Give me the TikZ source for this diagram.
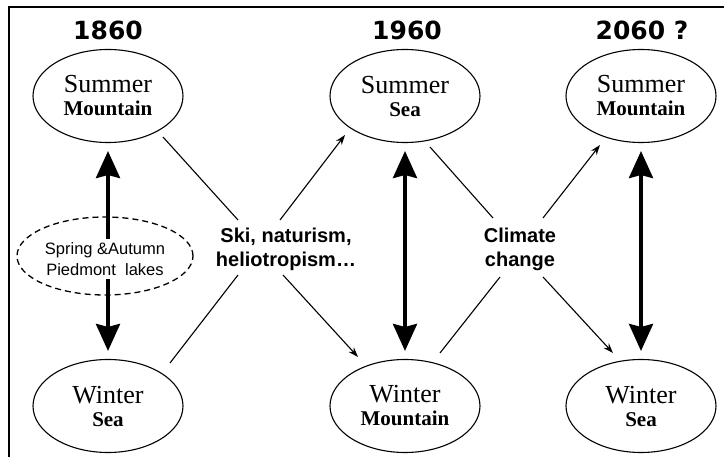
\documentclass[tikz,border=0pt]{standalone}
\usepackage{fontspec}
\setmainfont{Liberation Serif}
\newfontfamily\arialf{Liberation Sans}
\newfontfamily\yearf{DejaVu Sans}
\usetikzlibrary{arrows.meta,shapes.geometric}
\begin{document}
\begin{tikzpicture}[x=1pt,y=-1pt,
  season/.style={ellipse,draw,line width=1.1pt,minimum width=150pt,minimum height=93pt,inner sep=0pt,align=center,font=\fontsize{21}{23}\selectfont},
  year/.style={font=\yearf\bfseries\fontsize{25}{28}\selectfont,anchor=base},
  cause/.style={font=\arialf\bfseries\fontsize{20}{24}\selectfont,align=center,inner sep=0pt},
  bigarrow/.style={line width=3.6pt,{Stealth[length=27pt,width=24pt,inset=3pt]}-{Stealth[length=27pt,width=24pt,inset=3pt]},shorten <=8pt,shorten >=8pt},
  thin/.style={line width=1.1pt},
  thinarrow/.style={line width=1.1pt,-{Stealth[length=10pt,width=7pt]}}
]
\useasboundingbox (0,0) rectangle (724,457);
% frame
\draw[line width=1.4pt] (9,457) coordinate (fb) -- (9,7) coordinate (fc) -- (724,7) coordinate (fr);

% years
\node[year] (y1) at (108,40) {1860};
\node[year] (y2) at (407,40) {1960};
\node[year] (y3) at (642,40) {2060 ?};

% seasons
\node[season] (sm1) at (108,96) {{\fontsize{26}{23}\selectfont Summer}\\\textbf{Mountain}};
\node[season] (ws1) at (108,406) {{\fontsize{26}{23}\selectfont Winter}\\\textbf{Sea}};
\node[season] (sm2) at (405,96) {{\fontsize{26}{23}\selectfont Summer}\\\textbf{Sea}};
\node[season] (wm2) at (405,406) {{\fontsize{26}{23}\selectfont Winter}\\\textbf{Mountain}};
\node[season] (sm3) at (641,96) {{\fontsize{26}{23}\selectfont Summer}\\\textbf{Mountain}};
\node[season] (ws3) at (641,406) {{\fontsize{26}{23}\selectfont Winter}\\\textbf{Sea}};

% vertical arrows
\draw[bigarrow] (sm1) -- (ws1);
\draw[bigarrow] (sm2) -- (wm2);
\draw[bigarrow] (sm3) -- (ws3);

% transition lakes
\node[ellipse,draw,dashed,dash pattern=on 6pt off 4pt,line width=1.3pt,minimum width=176pt,minimum height=78pt] (lakes) at (105,256) {};
\node[fill=white,inner sep=3pt,align=center,font=\arialf\fontsize{16.5}{21}\selectfont] (lakest) at (105,259) {Spring \&Autumn\\Piedmont\ \ lakes};

% causes
\node[cause] (ski) at (286,249) {Ski, naturism,\\heliotropism\dots};
\node[cause] (clim) at (520,249) {Climate\\change};

\draw[thin] ([shift={(55,41)}]sm1.center) -- ([shift={(-48,-29)}]ski.center);
\draw[thinarrow] ([shift={(-6,-29)}]ski.center) -- ([shift={(-60,39)}]sm2.center);
\draw[thin] ([shift={(62,-43)}]ws1.center) -- ([shift={(-48,26)}]ski.center);
\draw[thinarrow] ([shift={(-3,26)}]ski.center) -- ([shift={(-47,-49)}]wm2.center);

\draw[thin] ([shift={(25,51)}]sm2.center) -- ([shift={(-27,-31)}]clim.center);
\draw[thinarrow] ([shift={(23,-31)}]clim.center) -- ([shift={(-41,49)}]sm3.center);
\draw[thin] ([shift={(35,-53)}]wm2.center) -- ([shift={(-20,28)}]clim.center);
\draw[thinarrow] ([shift={(23,28)}]clim.center) -- ([shift={(-28,-53)}]ws3.center);
\end{tikzpicture}
\end{document}
